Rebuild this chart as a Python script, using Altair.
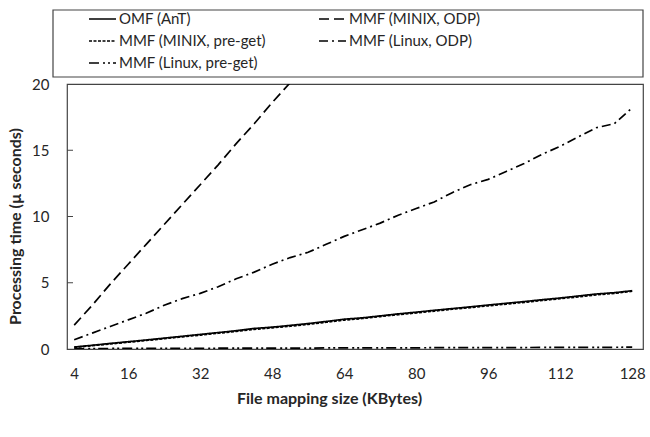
import altair as alt
import pandas as pd

# ---- data ----
sizes = [4, 8, 12, 16, 20, 24, 28, 32, 36, 40, 44, 48, 52, 56, 60, 64,
         68, 72, 76, 80, 84, 88, 92, 96, 100, 104, 108, 112, 116, 120, 124, 128]

omf_ant = [0.15, 0.28, 0.42, 0.55, 0.68, 0.82, 0.96, 1.10, 1.24, 1.38, 1.55, 1.65,
           1.78, 1.92, 2.08, 2.25, 2.35, 2.50, 2.65, 2.78, 2.92, 3.05, 3.18, 3.32,
           3.45, 3.58, 3.72, 3.85, 4.00, 4.15, 4.25, 4.40]

minix_pre = [0.12, 0.25, 0.38, 0.51, 0.64, 0.78, 0.92, 1.05, 1.19, 1.33, 1.48, 1.60,
             1.72, 1.86, 2.02, 2.18, 2.30, 2.45, 2.59, 2.72, 2.86, 3.00, 3.12, 3.26,
             3.39, 3.52, 3.66, 3.80, 3.93, 4.08, 4.20, 4.36]

minix_odp_sizes = [4, 8, 12, 16, 20, 24, 28, 32, 36, 40, 44, 48, 52, 56]
minix_odp = [1.8, 3.3, 4.9, 6.4, 7.9, 9.4, 10.9, 12.4, 13.9, 15.5, 17.0, 18.6, 20.1, 21.6]

linux_odp = [0.7, 1.2, 1.7, 2.2, 2.7, 3.3, 3.8, 4.2, 4.7, 5.3, 5.8, 6.4,
             6.9, 7.3, 7.9, 8.5, 9.0, 9.5, 10.1, 10.6, 11.1, 11.8, 12.4, 12.8,
             13.4, 14.0, 14.7, 15.3, 16.0, 16.7, 17.0, 18.2]

linux_pre = [0.03, 0.03, 0.04, 0.04, 0.04, 0.05, 0.05, 0.05, 0.06, 0.06, 0.06, 0.07,
             0.07, 0.07, 0.08, 0.08, 0.08, 0.09, 0.09, 0.09, 0.10, 0.10, 0.10, 0.11,
             0.11, 0.11, 0.12, 0.12, 0.12, 0.13, 0.13, 0.14]

series_names = ["OMF (AnT)", "MMF (MINIX, ODP)", "MMF (MINIX, pre-get)",
                "MMF (Linux, ODP)", "MMF (Linux, pre-get)"]
dash_styles = [[1, 0], [10, 5], [3, 1.5], [9, 4, 2, 4], [10, 4, 2, 3, 2, 3]]

x_ticks = [4, 16, 32, 48, 64, 80, 96, 112, 128]
y_ticks = [0, 5, 10, 15, 20]
inner_ticks = [5, 10, 15]

rows = []
for name, xs, ys in [
    (series_names[0], sizes, omf_ant),
    (series_names[1], minix_odp_sizes, minix_odp),
    (series_names[2], sizes, minix_pre),
    (series_names[3], sizes, linux_odp),
    (series_names[4], sizes, linux_pre),
]:
    for xv, yv in zip(xs, ys):
        rows.append({"series": name, "size": xv, "time": yv})
df = pd.DataFrame(rows)

FONT = "Lato"
TXT = "#262626"

x_enc = alt.X("size:Q",
              scale=alt.Scale(domain=[2.4, 130.4], nice=False, zero=False),
              axis=alt.Axis(values=x_ticks, title="File mapping size (KBytes)",
                            ticks=False, domain=False, grid=False,
                            labelFont=FONT, labelFontSize=15, labelColor=TXT,
                            labelPadding=17, titleFont=FONT, titleFontSize=16,
                            titleFontWeight="bold", titleColor=TXT, titlePadding=9,
                            titleX=262, titleAlign="center"))
y_scale = alt.Scale(domain=[0, 20], nice=False)
y_axis = alt.Axis(values=y_ticks, title="Processing time (µ seconds)",
                  ticks=False, domain=False, grid=False,
                  labelFont=FONT, labelFontSize=15, labelColor=TXT, labelPadding=18,
                  titleFont=FONT, titleFontSize=16, titleFontWeight="bold",
                  titleColor=TXT, titlePadding=8, titleY=142, titleAlign="center")

lines = alt.Chart(df).mark_line(clip=True, strokeWidth=1.7, color="black").encode(
    x=x_enc,
    y=alt.Y("time:Q", scale=y_scale, axis=y_axis),
    strokeDash=alt.StrokeDash(
        "series:N",
        sort=series_names,
        scale=alt.Scale(domain=series_names, range=dash_styles),
        legend=alt.Legend(orient="none", legendX=21, legendY=-73, columns=2,
                          direction="horizontal", clipHeight=16,
                          title=None, symbolType="stroke", symbolSize=729,
                          symbolStrokeWidth=1.6, symbolStrokeColor="black",
                          labelFont=FONT, labelFontSize=15, labelColor=TXT,
                          labelOffset=2, rowPadding=6, columnPadding=52,
                          padding=0),
    ),
    order=alt.Order("size:Q"),
)

tick_df = pd.DataFrame({"time": inner_ticks})
ticks = alt.Chart(tick_df).mark_rule(color="#444", strokeWidth=1).encode(
    y=alt.Y("time:Q", scale=y_scale, axis=y_axis),
    x=alt.value(0), x2=alt.value(6),
)

frame = alt.Chart(pd.DataFrame({"k": [0]})).mark_rect(
    fill="white", fillOpacity=0, stroke="#444", strokeWidth=1.2
).encode(x=alt.value(-14), x2=alt.value(576), y=alt.value(-74), y2=alt.value(-7))

chart = alt.layer(frame, lines, ticks).properties(
    width=576, height=265,
    padding={"left": 67, "top": 84, "right": 7, "bottom": 88},
    autosize=alt.AutoSizeParams(type="none"),
    background="white",
).configure_view(stroke="#444", strokeWidth=1.2)

chart.save("out.html", embed_options={"renderer": "svg", "actions": False})
